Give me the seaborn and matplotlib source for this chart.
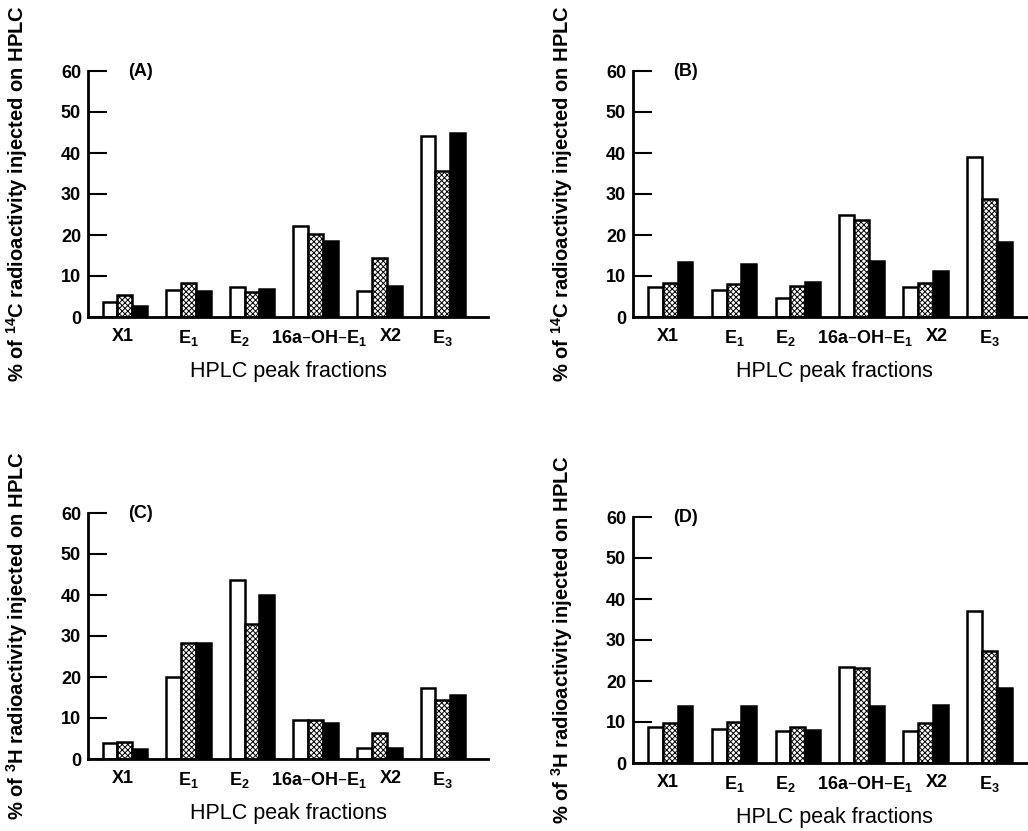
import pandas as pd
import numpy as np
import matplotlib.pyplot as plt
import seaborn as sns

sns.set_style('ticks')
plt.rcParams['font.family'] = ['Liberation Sans', 'DejaVu Sans']
plt.rcParams['mathtext.default'] = 'regular'
plt.rcParams['hatch.linewidth'] = 0.7
for key in ['text.color', 'axes.labelcolor', 'xtick.color', 'ytick.color', 'axes.edgecolor']:
    plt.rcParams[key] = 'black'

fractions = ['X1', 'E1', 'E2', '16a-OH-E1', 'X2', 'E3']
frac_labels = ['X1', r'E$_1$', r'E$_2$', r'16a–OH–E$_1$', 'X2', r'E$_3$']
series = ['open', 'stippled', 'filled']

# panel A (14C)
a_open = [3.7, 6.7, 7.3, 22.2, 6.3, 44.1]
a_stip = [5.4, 8.3, 6.1, 20.2, 14.4, 35.5]
a_fill = [2.6, 6.3, 6.8, 18.5, 7.6, 45.0]
# panel B (14C)
b_open = [7.2, 6.6, 4.6, 24.9, 7.3, 39.0]
b_stip = [8.4, 8.0, 7.5, 23.6, 8.2, 28.7]
b_fill = [13.3, 12.9, 8.6, 13.7, 11.2, 18.3]
# panel C (3H)
c_open = [3.9, 20.1, 43.6, 9.4, 2.8, 17.3]
c_stip = [4.1, 28.4, 32.9, 9.4, 6.3, 14.4]
c_fill = [2.4, 28.4, 40.0, 8.8, 2.8, 15.7]
# panel D (3H)
d_open = [8.9, 8.3, 7.9, 23.5, 7.7, 37.1]
d_stip = [9.7, 10.1, 8.9, 23.1, 9.7, 27.2]
d_fill = [14.0, 13.9, 8.1, 13.8, 14.1, 18.4]

ylab_c14 = r'% of $^{14}$C radioactivity injected on HPLC'
ylab_h3 = r'% of $^{3}$H radioactivity injected on HPLC'

W, H = 1028, 831
panels = [
    ('(A)', ylab_c14, a_open, a_stip, a_fill, (88, 71, 317, 400)),
    ('(B)', ylab_c14, b_open, b_stip, b_fill, (633, 71, 317, 402)),
    ('(C)', ylab_h3, c_open, c_stip, c_fill, (88, 513, 759, 400)),
    ('(D)', ylab_h3, d_open, d_stip, d_fill, (633, 517, 763, 402)),
]

fig = plt.figure(figsize=(W / 100, H / 100), dpi=100)
for tag, ylab, o, s, f, (left, top, bottom, width) in panels:
    ax = fig.add_axes([left / W, 1 - bottom / H, width / W, (bottom - top) / H])
    df = pd.DataFrame({'fraction': fractions * 3,
                       'value': o + s + f,
                       'series': np.repeat(series, 6)})
    sns.barplot(data=df, x='fraction', y='value', hue='series', order=fractions,
                hue_order=series, palette=['white', 'white', 'black'], saturation=1,
                edgecolor='black', linewidth=1.8, width=0.7, gap=0, legend=False, ax=ax)
    for p in ax.containers[1]:
        p.set_hatch('xxxxxx')
    ax.set_xlim(-0.58, 5.71)
    ax.set_ylim(0, 60)
    ax.set_yticks(range(0, 61, 10))
    # category labels sit slightly off the group centres in the original
    ax.set_xticks([-0.03, 1.0, 1.8, 3.05, 4.18, 5.0])
    ax.set_xticklabels(frac_labels, fontsize=13, fontweight='bold')
    for lab in ax.get_yticklabels():
        lab.set_fontweight('bold')
        lab.set_fontsize(13)
    sns.despine(ax=ax)
    for sp in ['left', 'bottom']:
        ax.spines[sp].set_linewidth(2)
    ax.tick_params(axis='y', direction='in', length=14, width=1.5, pad=5)
    ax.tick_params(axis='x', length=0, pad=8)
    ax.set_xlabel('HPLC peak fractions', fontsize=15.5)
    ax.xaxis.set_label_coords(0.5, -44 / (bottom - top))
    ax.set_ylabel(ylab, fontsize=14.5, fontweight='bold')
    ax.yaxis.set_label_coords(-58 / width, 0.5)
    ax.text(0.1, 1.0, tag, transform=ax.transAxes, ha='left', va='center',
            fontsize=13, fontweight='bold')

plt.savefig('out.png', dpi=100)
